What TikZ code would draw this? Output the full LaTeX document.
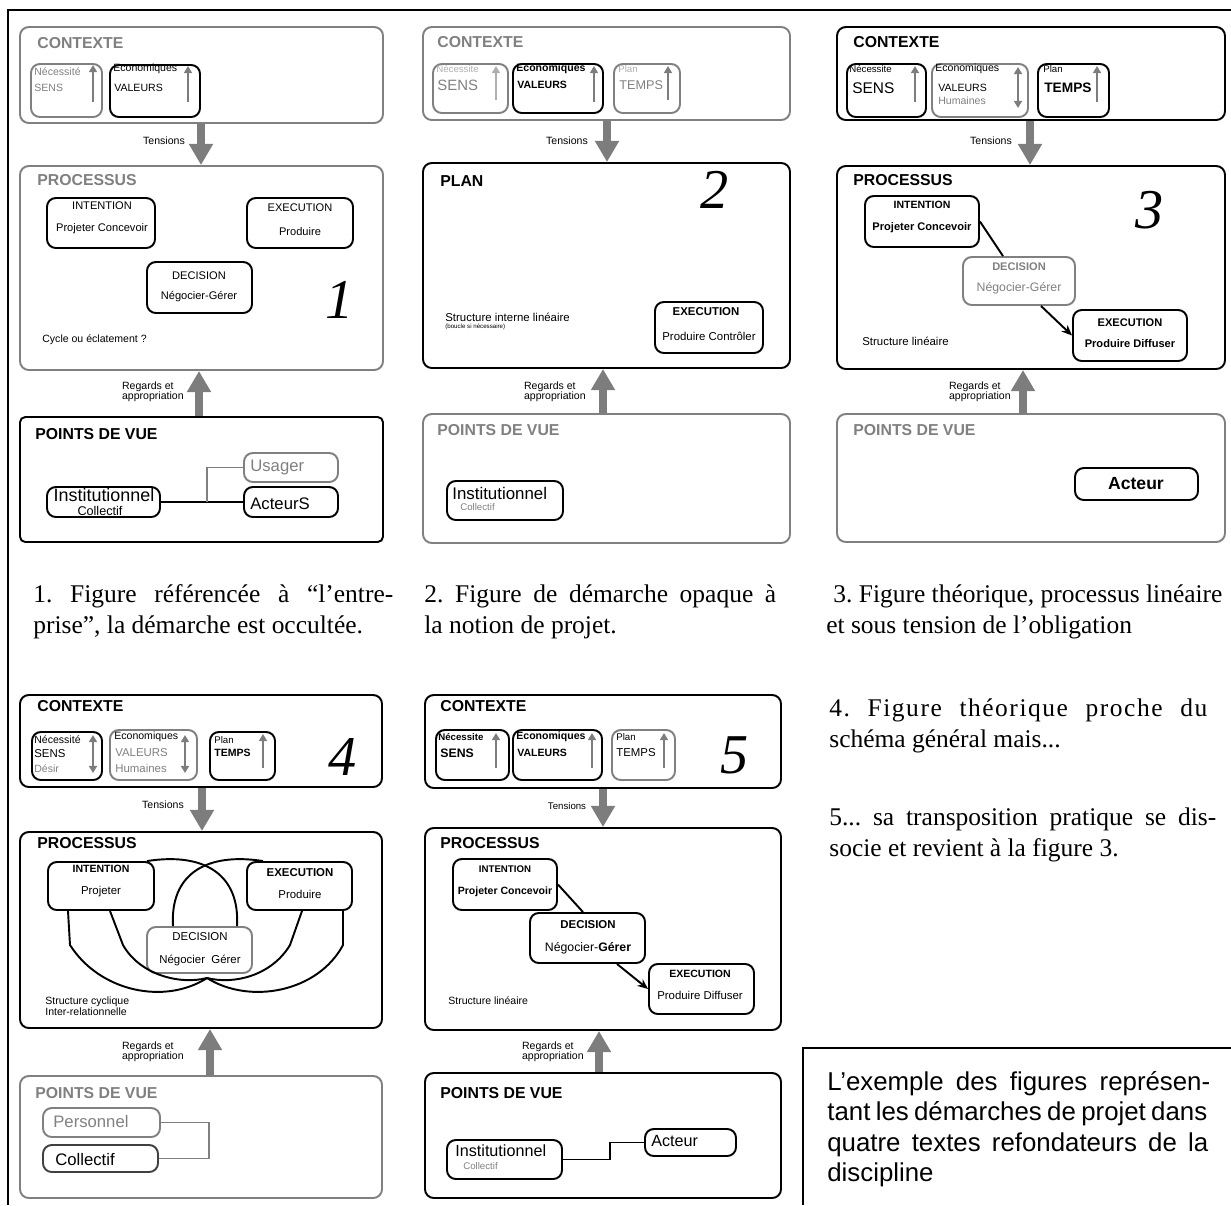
\documentclass[tikz,border=0pt]{standalone}
\usepackage{fontspec}
\setmainfont{Liberation Serif}
\setsansfont{Liberation Sans}
\usetikzlibrary{arrows.meta,fit,calc}
\definecolor{lg}{RGB}{128,128,128}
\definecolor{tg}{RGB}{128,128,128}
\definecolor{vlg}{RGB}{175,175,175}
\definecolor{ag}{RGB}{125,125,125}
\newcommand\fsz[1]{\fontsize{#1}{#1}\selectfont}
\frenchspacing
\begin{document}
\begin{tikzpicture}[x=0.02cm,y=-0.02cm,
 bb/.style={draw=black,line width=1.1pt,rounded corners=5pt,inner sep=0pt},
 gb/.style={draw=lg,line width=1.1pt,rounded corners=5pt,inner sep=0pt},
 tx/.style={inner sep=0pt,anchor=west,font=\sffamily},
 tc/.style={inner sep=0pt,anchor=center,font=\sffamily},
 hd/.style={inner sep=0pt,anchor=west,font=\sffamily\bfseries\fsz{9}},
 num/.style={inner sep=0pt,anchor=center,font=\rmfamily\itshape\fsz{32}},
 lab/.style={inner sep=0pt,anchor=center,font=\sffamily\fsz{6}},
 rg/.style={inner sep=0pt,anchor=east,align=left,font=\sffamily\fontsize{6}{5.8}\selectfont},
 big/.style={draw=ag,line width=4.5pt,-{Triangle[length=12pt,width=13pt]}},
 sa/.style={draw=ag,line width=1.3pt,-{Triangle[length=4pt,width=4.5pt]}},
 da/.style={draw=ag,line width=1.3pt,{Triangle[length=4pt,width=4.5pt]}-{Triangle[length=4pt,width=4.5pt]}},
 bl/.style={draw=black,line width=1.1pt},
 gl/.style={draw=lg,line width=1.1pt},
 ar/.style={draw=black,line width=1.1pt,-{Stealth[length=6pt,width=5pt]}},
 capt/.style={inner sep=0pt,anchor=base west,font=\rmfamily\fontsize{14.5}{18.1}\selectfont},
]
\useasboundingbox (0,0) rectangle (1231,1205);
% outer frame
\draw[line width=1.1pt] (8,1205) -- (8,10) -- (1231,10);

%%%%%%%%%%%%%%%% PANEL 1
\node[gb,fit={(20,27) (383,123)}] (ctx1) {};
\node[hd,text=tg] (ctx1t) at (37,43) {CONTEXTE};
\node[gb,fit={(31,64) (102,117)}] (nec1) {};
\node[tx,text=tg] (nec1a) at (34,72) {\fsz{6}Nécessité};
\node[tx,text=tg] (nec1b) at (34,88) {\fsz{6}SENS};
\draw[sa] (93,102) -- (93,65);
\node[bb,fit={(110,65) (200,117)}] (eco1) {};
\node[tx] (eco1a) at (113,69) {\fsz{6}Economiques};
\node[tx] (eco1b) at (114,88) {\fsz{6}VALEURS};
\draw[sa] (188,102) -- (188,66);
\node[gb,fit={(20,166) (383,370)}] (proc1) {};
\node[hd,text=tg] (proc1t) at (37,180) {PROCESSUS};
\draw[big] (201,0 |- ctx1.south) -- (201,0 |- proc1.north);
\node[lab] (ten1) at (164,141) {Tensions};
\node[bb,fit={(47,198) (155,248)}] (int1) {};
\node[tc] (int1a) at (102,206) {\fsz{6.3}INTENTION};
\node[tc] (int1b) at (102,229) {\fsz{6.3}Projeter Concevoir};
\node[bb,fit={(247,198) (353,248)}] (exe1) {};
\node[tc] (exe1a) at (300,208) {\fsz{6.3}EXECUTION};
\node[tc] (exe1b) at (300,232) {\fsz{6.3}Produire};
\node[bb,fit={(147,262) (252,313)}] (dec1) {};
\node[tc] (dec1a) at (199,276) {\fsz{6.3}DECISION};
\node[tc] (dec1b) at (199,297) {\fsz{6.3}Négocier-Gérer};
\node[num] (n1) at (340,300) {1};
\node[tx] (cyc1) at (42,340) {\fsz{6}Cycle ou éclatement ?};
\node[bb,rounded corners=3pt,fit={(20,417) (383,542)}] (pdv1) {};
\draw[big] (199,0 |- pdv1.north) -- (199,0 |- proc1.south);
\node[rg] (reg1) at (184,392) {Regards et\\appropriation};
\node[hd] (pdv1t) at (35,434) {POINTS DE VUE};
\node[bb,fit={(47,487) (160,517)}] (inst1) {};
\node[tc] (inst1a) at (104,495) {\fsz{10.2}Institutionnel};
\node[tc] (inst1b) at (100,511) {\fsz{7.2}Collectif};
\node[gb,fit={(244,453) (338,482)}] (usa1) {};
\node[tx,text=tg] (usa1t) at (250,467) {\fsz{9.5}Usager};
\node[bb,fit={(244,487) (338,517)}] (act1) {};
\node[tx] (act1t) at (250,504) {\fsz{9.5}ActeurS};
\draw[bl] (inst1.east) -- (act1.west);
\coordinate (j1) at (207,502);
\draw[gl] (j1) |- (usa1.west);

%%%%%%%%%%%%%%%% PANEL 2
\node[gb,fit={(423,27) (790,120)}] (ctx2) {};
\node[hd,text=tg] (ctx2t) at (437,42) {CONTEXTE};
\node[gb,fit={(433,64) (508,113)}] (nec2) {};
\node[tx,text=vlg] (nec2a) at (436,69) {\fsz{5.5}Nécessite};
\node[tx,text=tg] (nec2b) at (437,85) {\fsz{8.5}SENS};
\draw[sa,draw=vlg] (496,100) -- (496,66);
\node[bb,fit={(513,64) (603,113)}] (eco2) {};
\node[tx] (eco2a) at (516,69) {\fsz{6}\bfseries Economiques};
\node[tx] (eco2b) at (517,85) {\fsz{6}\bfseries VALEURS};
\draw[sa] (594,102) -- (594,66);
\node[gb,fit={(614,64) (680,113)}] (plan2) {};
\node[tx,text=vlg] (plan2a) at (618,69) {\fsz{5.5}Plan};
\node[tx,text=tg] (plan2b) at (619,85) {\fsz{7.2}TEMPS};
\draw[sa] (668,100) -- (668,66);
\node[bb,fit={(423,163) (790,368)}] (pl2) {};
\node[hd] (pl2t) at (440,181) {PLAN};
\draw[big] (607,0 |- ctx2.south) -- (607,0 |- pl2.north);
\node[lab] (ten2) at (567,141) {Tensions};
\node[num] (n2) at (715,190) {2};
\node[tx] (st2a) at (445,317) {\fsz{6.5}Structure interne linéaire};
\node[tx] (st2b) at (445,327) {\fsz{3.5}(boucle si nécessaire)};
\node[bb,fit={(655,302) (763,353)}] (exe2) {};
\node[tc] (exe2a) at (706,312) {\fsz{6.5}\bfseries EXECUTION};
\node[tc] (exe2b) at (709,336) {\fsz{6.5}Produire Contrôler};
\node[gb,fit={(423,414) (790,543)}] (pdv2) {};
\draw[big] (603,0 |- pdv2.north) -- (603,0 |- pl2.south);
\node[rg] (reg2) at (586,392) {Regards et\\appropriation};
\node[hd,text=tg] (pdv2t) at (437,430) {POINTS DE VUE};
\node[bb,fit={(447,481) (563,520)}] (inst2) {};
\node[tx] (inst2a) at (452,493) {\fsz{9.6}Institutionnel};
\node[tx,text=tg] (inst2b) at (460,507) {\fsz{5.5}Collectif};

%%%%%%%%%%%%%%%% PANEL 3
\node[bb,fit={(837,27) (1225,120)}] (ctx3) {};
\node[hd] (ctx3t) at (853,42) {CONTEXTE};
\node[bb,fit={(847,64) (926,117)}] (nec3) {};
\node[tx] (nec3a) at (849,69) {\fsz{5.5}Nécessite};
\node[tx] (nec3b) at (852,88) {\fsz{8.8}SENS};
\draw[sa] (915,102) -- (915,66);
\node[gb,fit={(932,64) (1028,117)}] (eco3) {};
\node[tx] (eco3a) at (935,69) {\fsz{6}Economiques};
\node[tx] (eco3b) at (938,88) {\fsz{6}VALEURS};
\node[tx,text=tg] (eco3c) at (938,101) {\fsz{6}Humaines};
\draw[da] (1018,67) -- (1018,108);
\node[bb,fit={(1038,64) (1109,117)}] (plan3) {};
\node[tx] (plan3a) at (1043,69) {\fsz{5.5}Plan};
\node[tx] (plan3b) at (1044,88) {\fsz{7.8}\bfseries TEMPS};
\draw[sa] (1097,102) -- (1097,66);
\node[bb,fit={(837,166) (1225,369)}] (proc3) {};
\node[hd] (proc3t) at (853,180) {PROCESSUS};
\draw[big] (1030,0 |- ctx3.south) -- (1030,0 |- proc3.north);
\node[lab] (ten3) at (991,141) {Tensions};
\node[num] (n3) at (1150,210) {3};
\node[bb,fit={(865,196) (979,247)}] (int3) {};
\node[tc] (int3a) at (922,205) {\fsz{6}\bfseries INTENTION};
\node[tc] (int3b) at (922,228) {\fsz{6.3}\bfseries Projeter Concevoir};
\node[gb,fit={(963,257) (1075,305)}] (dec3) {};
\node[tc,text=tg] (dec3a) at (1019,267) {\fsz{6.3}\bfseries DECISION};
\node[tc,text=tg] (dec3b) at (1019,288) {\fsz{7}Négocier-Gérer};
\node[bb,fit={(1073,310) (1187,361)}] (exe3) {};
\node[tc] (exe3a) at (1130,323) {\fsz{6.3}\bfseries EXECUTION};
\node[tc] (exe3b) at (1130,344) {\fsz{6.3}\bfseries Produire Diffuser};
\draw[bl] (int3.east) -- (1003,0 |- dec3.north);
\draw[ar] (1041,0 |- dec3.south) -- (exe3.west);
\node[tx] (st3) at (862,341) {\fsz{6.5}Structure linéaire};
\node[gb,fit={(837,414) (1225,542)}] (pdv3) {};
\draw[big] (1023,0 |- pdv3.north) -- (1023,0 |- proc3.south);
\node[rg] (reg3) at (1011,392) {Regards et\\appropriation};
\node[hd,text=tg] (pdv3t) at (853,430) {POINTS DE VUE};
\node[bb,fit={(1075,468) (1198,500)}] (act3) {};
\node[tc] (act3t) at (1136,484) {\fsz{10}\bfseries Acteur};

%%%%%%%%%%%%%%%% PANEL 4
\node[bb,fit={(20,695) (382,787)}] (ctx4) {};
\node[hd] (ctx4t) at (37,706) {CONTEXTE};
\node[bb,fit={(32,732) (102,780)}] (nec4) {};
\node[tx] (nec4a) at (34,740) {\fsz{6}Nécessité};
\node[tx] (nec4b) at (34,754) {\fsz{6.5}SENS};
\node[tx,text=tg] (nec4c) at (34,769) {\fsz{6}Désir};
\draw[da] (93,735) -- (93,773);
\node[gb,fit={(110,730) (197,780)}] (eco4) {};
\node[tx] (eco4a) at (114,737) {\fsz{6}Economiques};
\node[tx,text=tg] (eco4b) at (115,753) {\fsz{6.5}VALEURS};
\node[tx,text=tg] (eco4c) at (115,768) {\fsz{6.5}Humaines};
\draw[da] (185,735) -- (185,773);
\node[bb,fit={(210,732) (275,780)}] (plan4) {};
\node[tx] (plan4a) at (214,740) {\fsz{5.5}Plan};
\node[tx] (plan4b) at (214,753) {\fsz{6}\bfseries TEMPS};
\draw[sa] (263,768) -- (263,734);
\node[num] (n4) at (343,757) {4};
\node[bb,fit={(20,832) (382,1028)}] (proc4) {};
\node[hd] (proc4t) at (37,843) {PROCESSUS};
\draw[big] (202,0 |- ctx4.south) -- (202,0 |- proc4.north);
\node[lab] (ten4) at (163,805) {Tensions};
\node[bb,fit={(48,862) (154,910)}] (int4) {};
\node[tc] (int4a) at (101,869) {\fsz{6}\bfseries INTENTION};
\node[tc] (int4b) at (101,892) {\fsz{6.5}Projeter};
\node[bb,fit={(247,862) (352,910)}] (exe4) {};
\node[tc] (exe4a) at (300,873) {\fsz{6.5}\bfseries EXECUTION};
\node[tc] (exe4b) at (300,894) {\fsz{6.5}Produire};
\node[gb,fit={(147,927) (252,973)}] (dec4) {};
\node[tc] (dec4a) at (200,937) {\fsz{6.5}DECISION};
\node[tc] (dec4b) at (200,960) {\fsz{6.5}Négocier\ \ Gérer};
\coordinate (m4) at (207,978);
\draw[bl] (147,0 |- int4.north) .. controls (205,852) and (240,875) .. (237,0 |- dec4.north);
\draw[bl] (263,0 |- exe4.north) .. controls (205,852) and (170,875) .. (173,0 |- dec4.north);
\draw[bl] (68,0 |- int4.south) -- (70,945) .. controls (100,992) and (165,1005) .. (m4);
\draw[bl] (110,0 |- int4.south) -- (123,945) .. controls (140,975) and (180,985) .. (m4);
\draw[bl] (302,0 |- exe4.south) -- (290,945) .. controls (272,975) and (235,985) .. (m4);
\draw[bl] (343,0 |- exe4.south) -- (343,945) .. controls (318,992) and (250,1005) .. (m4);
\node[tx,align=left,font=\sffamily\fontsize{6}{6}\selectfont] (st4) at (45,1006) {Structure cyclique\\Inter-relationnelle};
\node[gb,fit={(20,1076) (382,1198)}] (pdv4) {};
\draw[big] (210,0 |- pdv4.north) -- (210,0 |- proc4.south);
\node[rg] (reg4) at (184,1052) {Regards et\\appropriation};
\node[hd,text=tg] (pdv4t) at (35,1093) {POINTS DE VUE};
\node[gb,fit={(43,1108) (160,1137)}] (pers4) {};
\node[tx,text=tg] (pers4t) at (53,1122) {\fsz{9.5}Personnel};
\node[draw=black!75,line width=1.1pt,rounded corners=5pt,inner sep=0pt,fit={(43,1145) (158,1172)}] (coll4) {};
\node[tx] (coll4t) at (55,1160) {\fsz{9.5}Collectif};
\draw[gl] (pers4.east) -- ++(48,0) |- (coll4.east);

%%%%%%%%%%%%%%%% PANEL 5
\node[bb,fit={(425,695) (781,788)}] (ctx5) {};
\node[hd] (ctx5t) at (440,706) {CONTEXTE};
\node[bb,fit={(436,730) (509,780)}] (nec5) {};
\node[tx] (nec5a) at (438,737) {\fsz{5.5}\bfseries Nécessite};
\node[tx] (nec5b) at (440,753) {\fsz{7}\bfseries SENS};
\draw[sa] (496,768) -- (496,733);
\node[bb,fit={(513,730) (602,780)}] (eco5) {};
\node[tx] (eco5a) at (516,737) {\fsz{6}\bfseries Economiques};
\node[tx] (eco5b) at (517,753) {\fsz{6}\bfseries VALEURS};
\draw[sa] (592,768) -- (592,733);
\node[gb,fit={(612,730) (675,780)}] (plan5) {};
\node[tx] (plan5a) at (616,737) {\fsz{5.5}Plan};
\node[tx] (plan5b) at (616,753) {\fsz{6.5}TEMPS};
\draw[sa] (664,768) -- (664,733);
\node[num] (n5) at (735,755) {5};
\node[bb,fit={(425,828) (781,1030)}] (proc5) {};
\node[hd] (proc5t) at (440,843) {PROCESSUS};
\draw[big] (603,0 |- ctx5.south) -- (603,0 |- proc5.north);
\node[lab] (ten5) at (567,806) {\fsz{5.5}Tensions};
\node[bb,fit={(453,859) (557,910)}] (int5) {};
\node[tc] (int5a) at (505,869) {\fsz{5.5}\bfseries INTENTION};
\node[tc] (int5b) at (505,892) {\fsz{6}\bfseries Projeter Concevoir};
\node[bb,fit={(530,913) (645,963)}] (dec5) {};
\node[tc] (dec5a) at (588,925) {\fsz{6.5}\bfseries DECISION};
\node[tc] (dec5b) at (588,948) {\fsz{7}Négocier-\textbf{Gérer}};
\node[bb,fit={(649,964) (754,1014)}] (exe5) {};
\node[tc] (exe5a) at (700,974) {\fsz{6}\bfseries EXECUTION};
\node[tc] (exe5b) at (700,995) {\fsz{6.5}Produire Diffuser};
\draw[bl] (int5.east) -- (583,0 |- dec5.north);
\draw[ar] (617,0 |- dec5.south) -- (exe5.west);
\node[tx] (st5) at (448,1001) {\fsz{6}Structure linéaire};
\node[bb,fit={(425,1073) (781,1198)}] (pdv5) {};
\draw[big] (599,0 |- pdv5.north) -- (599,0 |- proc5.south);
\node[rg] (reg5) at (584,1052) {Regards et\\appropriation};
\node[hd] (pdv5t) at (440,1093) {POINTS DE VUE};
\node[bb,fit={(447,1140) (562,1179)}] (inst5) {};
\node[tx] (inst5a) at (455,1151) {\fsz{9.2}Institutionnel};
\node[tx,text=tg] (inst5b) at (463,1166) {\fsz{5.5}Collectif};
\node[bb,fit={(645,1129) (736,1156)}] (act5) {};
\node[tx] (act5t) at (651,1141) {\fsz{9.2}Acteur};
\coordinate (j5) at (610,1150);
\draw[bl] (inst5.east) -| (j5) |- (act5.west);

%%%%%%%%%%%%%%%% CAPTIONS
\node[capt] (cap1) at (33,602) {\parbox[t]{8cm}{\makebox[7.2cm][s]{1. Figure référencée à “l’entre-}\\prise”, la démarche est occultée.}};
\node[capt] (cap2) at (424,602) {\parbox[t]{8cm}{\makebox[7.04cm][s]{2. Figure de démarche opaque à}\\la notion de projet.}};
\node[capt] (cap3) at (833,602) {\parbox[t]{8.5cm}{3. Figure théorique, processus linéaire\\\hspace*{-4pt}et sous tension de l’obligation}};
\node[capt] (cap4) at (829,716) {\parbox[t]{8cm}{{\addfontfeature{LetterSpace=6}\makebox[7.56cm][s]{4. Figure théorique proche du}}\\schéma général mais...}};
\node[capt] (cap5) at (829,825) {\parbox[t]{8cm}{\makebox[7.74cm][s]{5... sa transposition pratique se dis-}\\socie et revient à la figure 3.}};

% bottom right box
\coordinate (brb) at (803,1205);
\coordinate (brt) at (1231,1048);
\draw[line width=1.1pt] (brb) |- (brt);
\node[inner sep=0pt,anchor=base west,font=\sffamily\fontsize{14.7}{17.4}\selectfont] (note) at (827,1090)
 {\parbox[t]{8cm}{\makebox[7.66cm][s]{L’exemple des figures représen-}\\\makebox[7.6cm][s]{tant les démarches de projet dans}\\\makebox[7.62cm][s]{quatre textes refondateurs de la}\\discipline}};
\end{tikzpicture}
\end{document}
